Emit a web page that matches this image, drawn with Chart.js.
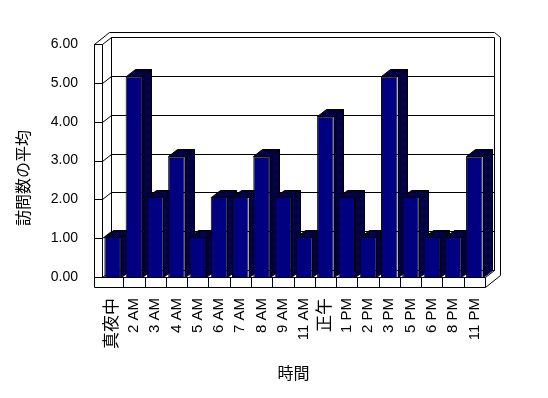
<!DOCTYPE html>
<html>
<head>
<meta charset="utf-8">
<script src="https://cdn.jsdelivr.net/npm/chart.js@4/dist/chart.umd.min.js"></script>
<style>
  html, body { margin: 0; padding: 0; background: #fff; }
  canvas { display: block; }
</style>
</head>
<body>
<canvas id="chart" width="548" height="398"></canvas>
<script>
const hours = ["真夜中", "2 AM", "3 AM", "4 AM", "5 AM", "6 AM", "7 AM", "8 AM", "9 AM", "11 AM",
  "正午", "1 PM", "2 PM", "3 PM", "5 PM", "6 PM", "8 PM", "11 PM"];
const avgVisits = [1, 5, 2, 3, 1, 2, 2, 3, 2, 1, 4, 2, 1, 5, 2, 1, 1, 3];
const yTicks = [0, 1, 2, 3, 4, 5, 6];
const yTitle = "訪問数の平均";
const xTitle = "時間";

const FONT = "'Liberation Sans', 'Noto Sans CJK JP', sans-serif";
const NAVY = "#000080";

// dithered navy/black fill for the side and top faces
function ditherPattern(ctx) {
  const c = document.createElement("canvas");
  c.width = 2; c.height = 2;
  const p = c.getContext("2d");
  p.fillStyle = NAVY; p.fillRect(0, 0, 2, 2);
  p.fillStyle = "#000"; p.fillRect(1, 0, 1, 1); p.fillRect(0, 1, 1, 1);
  return ctx.createPattern(c, "repeat");
}

const DX = 9, DY = -7;      // depth of the plot box
const WALL = 8, FLOOR = 10; // thickness of left wall and floor

const box3d = {
  id: "box3d",
  beforeDatasetsDraw(chart) {
    const { ctx, chartArea: a, scales } = chart;
    const L = Math.round(a.left), R = Math.round(a.right), T = Math.round(a.top), B = Math.round(a.bottom);
    const line = (x1, y1, x2, y2) => {
      ctx.beginPath();
      ctx.moveTo(x1 + 0.5, y1 + 0.5);
      ctx.lineTo(x2 + 0.5, y2 + 0.5);
      ctx.stroke();
    };
    ctx.save();
    ctx.strokeStyle = "#000";
    ctx.lineWidth = 1;

    // left wall
    line(L - WALL, T, L - WALL, B + FLOOR);
    line(L, T, L, B);
    line(L - WALL, T, L, T);
    line(L - WALL, T, L + 7, T - 12);
    line(L, T, L + DX, T + DY);
    // back wall
    line(L + 7, T - 12, R + DX, T - 12);
    line(R + DX, T - 12, R + 15, T + DY);
    line(R + 15, T + DY, R + 15, B - 2);
    line(L + DX, T + DY, R + DX, T + DY);
    line(L + DX, T + DY, L + DX, B + DY);
    line(R + DX, T + DY, R + DX, B + DY);
    // floor
    line(L + DX, B + DY, R + DX, B + DY);
    line(L, B, L + DX, B + DY);
    line(R, B, R + DX, B + DY);
    line(L - WALL, B, R, B);
    line(L - WALL, B + FLOOR, R, B + FLOOR);
    line(R, B, R, B + FLOOR);
    line(R, B + FLOOR, R + 15, B - 2);
    const n = hours.length;
    for (let i = 1; i < n; i++) {
      const x = Math.round(L + (R - L) * i / n);
      line(x, B, x, B + FLOOR);
    }
    // gridlines on the back wall, ticks on the left wall
    yTicks.forEach(v => {
      const y = Math.round(scales.y.getPixelForValue(v));
      line(L - WALL, y, L, y);
      if (v > 0 && v < 6) {
        line(L, y, L + DX, y + DY);
        line(L + DX, y + DY, R + DX, y + DY);
      }
    });

    // side and top faces of the columns
    const fill = ditherPattern(ctx);
    chart.getDatasetMeta(0).data.forEach(bar => {
      const { x, y, base, width } = bar.getProps(["x", "y", "base", "width"], true);
      const l = Math.round(x - width / 2), r = Math.round(x + width / 2);
      const t = Math.round(y), b = Math.round(base);
      ctx.fillStyle = fill;
      ctx.beginPath();
      ctx.moveTo(r + 0.5, t + 0.5);
      ctx.lineTo(r + DX + 0.5, t + DY + 0.5);
      ctx.lineTo(r + DX + 0.5, b + DY + 0.5);
      ctx.lineTo(r + 0.5, b + 0.5);
      ctx.closePath();
      ctx.fill(); ctx.stroke();
      ctx.beginPath();
      ctx.moveTo(l + 0.5, t + 0.5);
      ctx.lineTo(l + DX + 0.5, t + DY + 0.5);
      ctx.lineTo(r + DX + 0.5, t + DY + 0.5);
      ctx.lineTo(r + 0.5, t + 0.5);
      ctx.closePath();
      ctx.fill(); ctx.stroke();
    });
    ctx.restore();
  },
  // y title sits a bit below the middle of the axis, as in the original
  afterDraw(chart) {
    const { ctx } = chart;
    ctx.save();
    ctx.translate(25, 178);
    ctx.rotate(-Math.PI / 2);
    ctx.font = "16px " + FONT;
    ctx.fillStyle = "#000";
    ctx.textAlign = "center";
    ctx.textBaseline = "middle";
    ctx.fillText(yTitle, 0, 0);
    ctx.restore();
  }
};

Chart.defaults.font.family = FONT;
Chart.defaults.color = "#000";

new Chart(document.getElementById("chart").getContext("2d"), {
  type: "bar",
  data: {
    labels: hours,
    datasets: [{
      data: avgVisits,
      yAxisID: "yb",
      backgroundColor: NAVY,
      borderColor: "#000",
      borderWidth: 1,
      barPercentage: 0.78,
      categoryPercentage: 1
    }]
  },
  options: {
    responsive: false,
    devicePixelRatio: 1,
    animation: false,
    layout: { padding: { left: 0, right: 63, top: 44, bottom: 0 } },
    plugins: { legend: { display: false }, tooltip: { enabled: false } },
    scales: {
      x: {
        grid: { display: false, drawTicks: false },
        border: { display: false },
        ticks: {
          autoSkip: false, maxRotation: 90, minRotation: 90, padding: 21,
          font: c => ({ size: /[^\x00-\x7f]/.test(hours[c.index] || "") ? 17 : 15 })
        },
        title: { display: true, text: xTitle, font: { size: 16 }, padding: { top: 0, bottom: 14 } },
        afterFit: s => { s.height = 121; }
      },
      y: {
        position: "left",
        min: 0, max: 6,
        grid: { display: false, drawTicks: false },
        border: { display: false },
        ticks: { stepSize: 1, padding: 24, font: { size: 14 }, callback: v => Number(v).toFixed(2) },
        afterFit: s => { s.width = 102; }
      },
      // the columns rise a little faster than the front axis (perspective)
      yb: { display: false, min: 0, max: 5.8 }
    }
  },
  plugins: [box3d]
});
</script>
</body>
</html>
